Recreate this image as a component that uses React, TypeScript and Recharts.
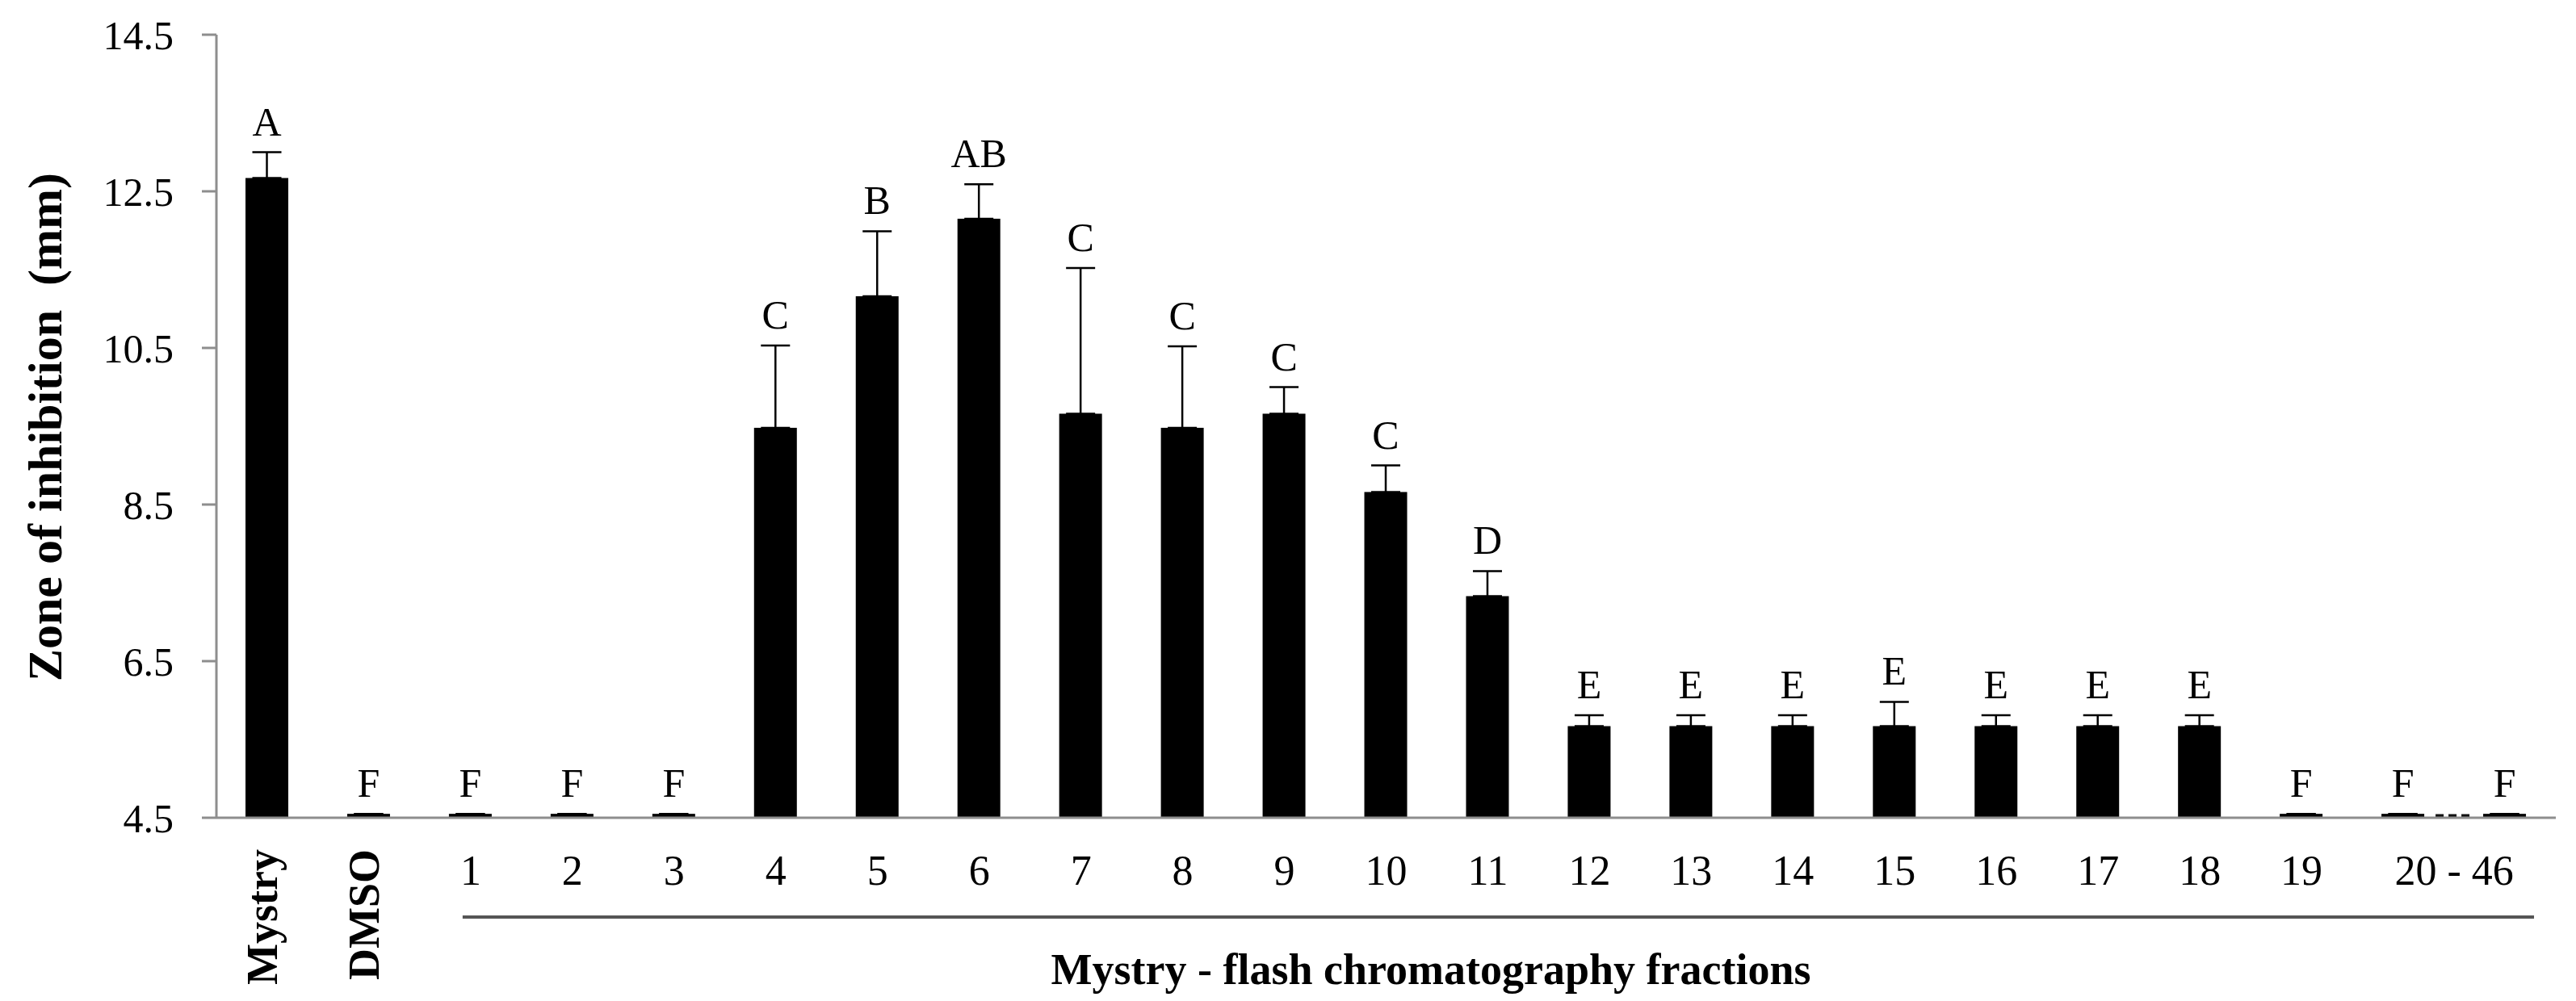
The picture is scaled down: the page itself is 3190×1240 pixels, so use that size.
import React from "react";
import { Bar, BarChart, ErrorBar, XAxis, YAxis } from "recharts";

const SERIF = '"Liberation Serif", "Times New Roman", serif';

const categories = [
  "Mystry", "DMSO", "1", "2", "3", "4", "5", "6", "7", "8", "9", "10",
  "11", "12", "13", "14", "15", "16", "17", "18", "19", "20", "46",
];
// mean zone of inhibition (mm); F groups show as a hairline at the baseline
const zone = [
  12.67, 4.55, 4.55, 4.55, 4.55, 9.48, 11.16, 12.15, 9.66, 9.48, 9.66, 8.66,
  7.33, 5.67, 5.67, 5.67, 5.67, 5.67, 5.67, 5.67, 4.55, 4.55, 4.55,
];
const sd = [
  0.33, 0, 0, 0, 0, 1.05, 0.83, 0.44, 1.86, 1.04, 0.34, 0.34,
  0.32, 0.14, 0.14, 0.14, 0.31, 0.14, 0.14, 0.14, 0, 0, 0,
];
const letters = [
  "A", "F", "F", "F", "F", "C", "B", "AB", "C", "C", "C", "C",
  "D", "E", "E", "E", "E", "E", "E", "E", "F", "F", "F",
];
const yTicks = [4.5, 6.5, 8.5, 10.5, 12.5, 14.5];

const data = categories.map((name, i) => ({
  name,
  zone: zone[i],
  err: [0, sd[i]],
  sd: sd[i],
  letter: letters[i],
}));

const BASE = 4.5;

function BarWithLetter(props: any) {
  const { x, y, width, height, payload } = props;
  const perUnit = height / (payload.zone - BASE);
  const top = y - payload.sd * perUnit;
  return (
    <g>
      <rect x={x} y={y} width={width} height={height} fill="#000" />
      <text
        x={x + width / 2}
        y={top - 21}
        textAnchor="middle"
        fontFamily={SERIF}
        fontSize={50}
        fill="#000"
      >
        {payload.letter}
      </text>
      {payload.name === "20" && (
        <line
          x1={x + width + 14}
          x2={x + width + 56}
          y1={y + height / 2}
          y2={y + height / 2}
          stroke="#111"
          strokeWidth={4}
          strokeDasharray="10 6"
        />
      )}
    </g>
  );
}

function CategoryTick(props: any) {
  const { x, y, payload } = props;
  const v = payload.value;
  const slot = (payload.offset || 63) * 2;
  if (v === "Mystry" || v === "DMSO") {
    return (
      <text
        transform={`translate(${x + 12}, ${y + 39}) rotate(-90)`}
        textAnchor="end"
        fontFamily={SERIF}
        fontWeight="bold"
        fontSize={54}
        fill="#000"
      >
        {v}
      </text>
    );
  }
  if (v === "46") return null;
  const label = v === "20" ? "20 - 46" : v;
  const cx = v === "20" ? x + slot / 2 : x;
  return (
    <text x={cx} y={y + 83} textAnchor="middle" fontFamily={SERIF} fontSize={52} fill="#000">
      {label}
    </text>
  );
}

function FractionsTitle(props: any) {
  const { x, y, width } = props.viewBox;
  const slot = width / categories.length;
  return (
    <g>
      <line
        x1={x + 2.5 * slot - 10}
        x2={x + 22.5 * slot + 36}
        y1={y + 123}
        y2={y + 123}
        stroke="#555"
        strokeWidth={4}
      />
      <text
        x={x + 1504}
        y={y + 206}
        textAnchor="middle"
        fontFamily={SERIF}
        fontWeight="bold"
        fontSize={54}
        fill="#000"
      >
        Mystry - flash chromatography fractions
      </text>
    </g>
  );
}

function ZoneLabel() {
  return (
    <text
      transform="translate(76, 529) rotate(-90)"
      textAnchor="middle"
      fontFamily={SERIF}
      fontWeight="bold"
      fontSize={60}
      fill="#000"
    >
      Zone of inhibition{"\u00a0"} (mm)
    </text>
  );
}

export default function App() {
  return (
    <div style={{ position: "absolute", left: 0, top: 0, width: 3190, height: 1240, background: "#fff" }}>
      <BarChart
        width={3190}
        height={1240}
        data={data}
        margin={{ top: 43, right: 25, left: 0, bottom: 0 }}
      >
        <XAxis
          dataKey="name"
          interval={0}
          height={227}
          tickLine={false}
          tickSize={0}
          tickMargin={0}
          axisLine={{ stroke: "#8e8e8e", strokeWidth: 3 }}
          tick={<CategoryTick />}
          label={{ content: (p: any) => <FractionsTitle {...p} /> }}
        />
        <YAxis
          width={268}
          domain={[4.5, 14.5]}
          ticks={yTicks}
          allowDataOverflow
          tickSize={18}
          tickMargin={35}
          tickFormatter={(v: number) => v.toFixed(1)}
          tick={{ fontSize: 50, fontFamily: SERIF, fill: "#000" }}
          tickLine={{ stroke: "#8e8e8e", strokeWidth: 3 }}
          axisLine={{ stroke: "#8e8e8e", strokeWidth: 3 }}
          label={{ content: () => <ZoneLabel /> }}
        />
        <Bar dataKey="zone" barSize={53} fill="#000" shape={<BarWithLetter />} isAnimationActive={false}>
          <ErrorBar dataKey="err" direction="y" width={18} strokeWidth={2.5} stroke="#000" isAnimationActive={false} />
        </Bar>
      </BarChart>
    </div>
  );
}
